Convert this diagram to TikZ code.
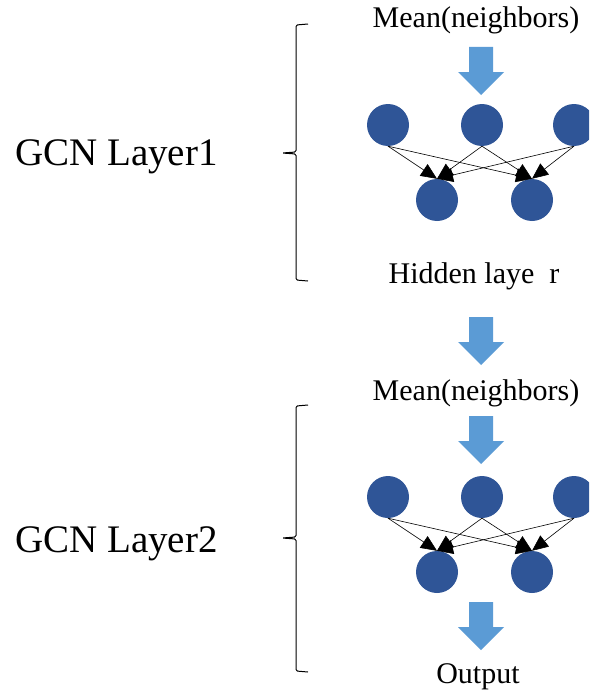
\documentclass[tikz,border=0pt]{standalone}
\usepackage{fontspec}
\setmainfont{Liberation Serif}
\usetikzlibrary{arrows.meta}
\definecolor{nodeblue}{HTML}{2F5597}
\definecolor{arrowblue}{HTML}{5B9BD5}
\newcommand{\blockarrow}[1]{%
  \fill[arrowblue] (#1) ++(-12,0) -- ++(24,0) -- ++(0,25) -- ++(11,0)
    -- ++(-23,23) -- ++(-23,-23) -- ++(11,0) -- cycle;}
% left brace: x of the line, top y, middle y, bottom y
\newcommand{\layerbrace}[4]{%
  \draw[brace] (#1+12,#2-1) -- (#1,#2) -- (#1,#3-1) -- (#1-14,#3) -- (#1,#3+1)
    -- (#1,#4) -- (#1+12,#4+1);}

\begin{document}
\begin{tikzpicture}[x=1pt, y=-1pt]
\tikzstyle{neuron} = [circle, fill=nodeblue, minimum size=42pt, inner sep=0pt]
\tikzstyle{txt} = [anchor=base, inner sep=0pt, font=\fontsize{30}{36}\selectfont]
\tikzstyle{layer} = [anchor=base west, inner sep=0pt, font=\fontsize{39}{46}\selectfont]
\tikzstyle{edge} = [line width=0.6pt, -{Triangle[length=16pt, width=14pt]}]
\tikzstyle{brace} = [line width=1pt, rounded corners=1.5pt]

\useasboundingbox (0,0) rectangle (589,693);
\clip (0,0) rectangle (589,693);

% layer 1
\node[txt] (mean1) at (476,28) {Mean(neighbors)};
\coordinate (arr1) at (481,47);
\blockarrow{arr1}
\node[neuron] (a1) at (388,125) {};
\node[neuron] (a2) at (482,125) {};
\node[neuron] (a3) at (574,125) {};
\node[neuron] (b1) at (437,200) {};
\node[neuron] (b2) at (532,200) {};
\foreach \s in {a1,a2,a3}
  \foreach \t in {b1,b2}
    \draw[edge] (\s.south) -- (\t.north);
\node[txt] (hidden) at (474,283) {Hidden laye\ \ r};
\coordinate (arr2) at (481,317);
\blockarrow{arr2}
\node[layer] (gcn1) at (15,165) {GCN Layer1};
\layerbrace{296}{25}{153}{280}

% layer 2
\node[txt] (mean2) at (476,400) {Mean(neighbors)};
\coordinate (arr3) at (481,416);
\blockarrow{arr3}
\node[neuron] (c1) at (388,497) {};
\node[neuron] (c2) at (482,497) {};
\node[neuron] (c3) at (574,497) {};
\node[neuron] (d1) at (437,572) {};
\node[neuron] (d2) at (532,572) {};
\foreach \s in {c1,c2,c3}
  \foreach \t in {d1,d2}
    \draw[edge] (\s.south) -- (\t.north);
\coordinate (arr4) at (481,602);
\blockarrow{arr4}
\node[txt] (output) at (478,683) {Output};
\node[layer] (gcn2) at (15,552) {GCN Layer2};
\layerbrace{296}{406}{538}{671}
\end{tikzpicture}
\end{document}
